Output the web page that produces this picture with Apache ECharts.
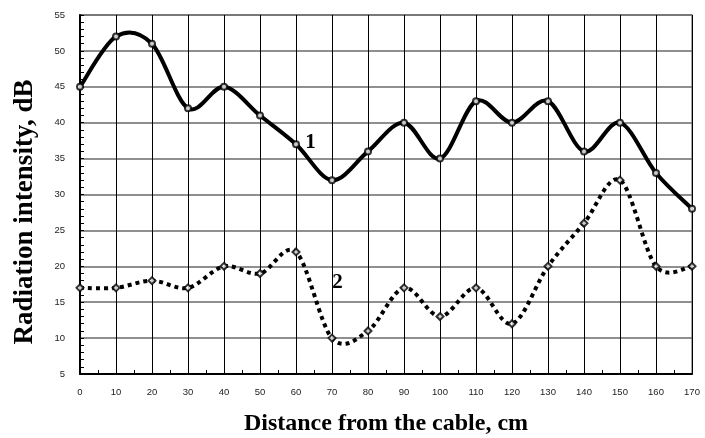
<!DOCTYPE html>
<html>
<head>
<meta charset="utf-8">
<script src="https://cdn.jsdelivr.net/npm/echarts@6/dist/echarts.min.js"></script>
<style>html,body{margin:0;padding:0;background:#fff;}#c{width:705px;height:438px;}</style>
</head>
<body>
<div id="c"></div>
<script>
const distances = [0,10,20,30,40,50,60,70,80,90,100,110,120,130,140,150,160,170];
const curve1 = [45,52,51,42,45,41,37,32,36,40,35,43,40,43,36,40,33,28];
const curve2 = [17,17,18,17,20,19,22,10,11,17,13,17,12,20,26,32,20,20];
const label1Pos = [64, 37.3];
const label2Pos = [71.5, 17.8];
const xTitle = 'Distance from the cable, cm';
const yTitle = 'Radiation intensity, dB';

const chart = echarts.init(document.getElementById('c'));
const pairs = arr => distances.map((d,i)=>[d, arr[i]]);

// Excel-like smoothed curve (Catmull-Rom Bezier through the data points, via axis scales)
function smoothPath(api, ys) {
  const pts = distances.map((x,i)=>api.coord([x, ys[i]]));
  let d = 'M' + pts[0][0] + ',' + pts[0][1];
  for (let i = 0; i < pts.length - 1; i++) {
    const p0 = pts[i-1] || pts[i], p1 = pts[i], p2 = pts[i+1], p3 = pts[i+2] || pts[i+1];
    const c1x = p1[0] + (p2[0]-p0[0])/6, c1y = p1[1] + (p2[1]-p0[1])/6;
    const c2x = p2[0] - (p3[0]-p1[0])/6, c2y = p2[1] - (p3[1]-p1[1])/6;
    d += ' C' + c1x + ',' + c1y + ' ' + c2x + ',' + c2y + ' ' + p2[0] + ',' + p2[1];
  }
  return d;
}
function curveSeries(ys, dash) {
  return {
    type:'custom', data:pairs(ys), encode:{x:0,y:1}, clip:false, z:2,
    renderItem:(params, api) => {
      if (params.dataIndex !== 0) return null;
      return {type:'path', shape:{pathData:smoothPath(api, ys)},
        style:{fill:'none', stroke:'#000', lineWidth:4, lineDash:dash, lineCap:'butt', lineJoin:'round'}};
    }
  };
}
const labelFont = {fontFamily:'Liberation Serif', fontWeight:'bold', fontSize:21, color:'#000'};
chart.setOption({
  animation:false,
  backgroundColor:'#fff',
  grid:{left:80,right:13,top:15,bottom:64,show:true,borderColor:'#888',borderWidth:1.5,backgroundColor:'transparent'},
  graphic:[
    {type:'text', x:386, y:424, style:{text:xTitle, font:'bold 24px "Liberation Serif"', fill:'#000', align:'center', verticalAlign:'middle'}},
    {type:'text', x:25, y:212, rotation:Math.PI/2, style:{text:yTitle, font:'bold 27px "Liberation Serif"', fill:'#000', align:'center', verticalAlign:'middle'}}
  ],
  xAxis:{
    type:'value', min:0, max:170, interval:10,
    axisLine:{show:true,lineStyle:{color:'#000',width:2}},
    axisTick:{show:true,inside:true,length:4,lineStyle:{color:'#000'}},
    minorTick:{show:true,splitNumber:2,length:4,lineStyle:{color:'#000'}},
    axisLabel:{fontFamily:'Liberation Sans',fontSize:9.5,color:'#222',margin:13},
    splitLine:{show:true,lineStyle:{color:'#000',width:1}}
  },
  yAxis:{
    type:'value', min:5, max:55, interval:5,
    axisLine:{show:true,lineStyle:{color:'#000',width:2}},
    axisTick:{show:true,inside:true,length:4,lineStyle:{color:'#000'}},
    minorTick:{show:true,splitNumber:5,length:4,lineStyle:{color:'#000'}},
    axisLabel:{fontFamily:'Liberation Sans',fontSize:9.5,color:'#222',margin:15},
    splitLine:{show:true,lineStyle:{color:'#6a6a6a',width:1.5}}
  },
  series:[
    curveSeries(curve1, null),
    curveSeries(curve2, [4,4]),
    {
      type:'scatter', data:pairs(curve1), z:3,
      symbol:'emptyCircle', symbolSize:6,
      itemStyle:{color:'#000',borderColor:'#000',borderWidth:1},
      markPoint:{symbol:'circle',symbolSize:0,data:[{coord:label1Pos}],
        label:{show:true,formatter:'1',position:'inside',...labelFont}}
    },
    {
      type:'scatter', data:pairs(curve2), z:3,
      symbol:'emptyDiamond', symbolSize:7,
      itemStyle:{color:'#000',borderColor:'#000',borderWidth:1},
      markPoint:{symbol:'circle',symbolSize:0,data:[{coord:label2Pos}],
        label:{show:true,formatter:'2',position:'inside',...labelFont}}
    }
  ]
});
</script>
</body>
</html>
